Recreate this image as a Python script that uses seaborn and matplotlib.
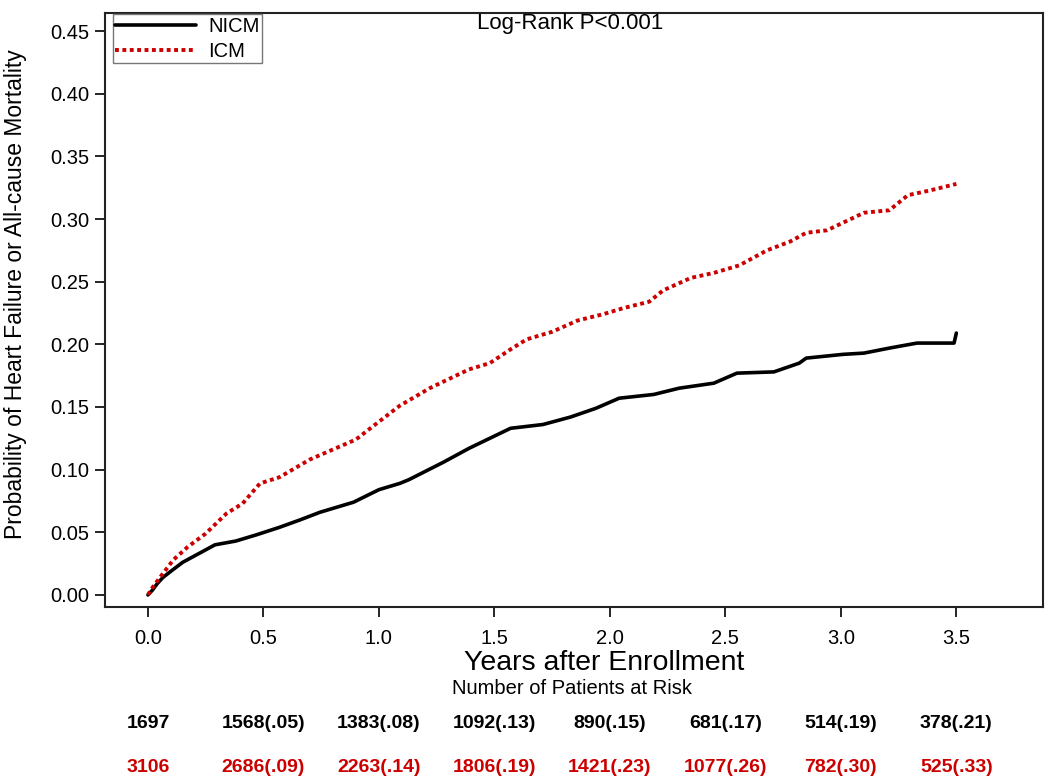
import matplotlib
matplotlib.use("Agg")
import matplotlib.pyplot as plt
import matplotlib.transforms as mtransforms
import seaborn as sns
import pandas as pd

# ---- data ----
nicm_t = [0.0, 0.02, 0.04, 0.065, 0.10, 0.15, 0.20, 0.29, 0.38, 0.47, 0.57, 0.66, 0.745,
          0.89, 1.00, 1.09, 1.13, 1.28, 1.39, 1.48, 1.57, 1.71, 1.83, 1.94, 2.04, 2.19,
          2.30, 2.45, 2.55, 2.71, 2.82, 2.85, 3.01, 3.10, 3.21, 3.33, 3.49, 3.50]
nicm_v = [0.0, 0.004, 0.009, 0.014, 0.019, 0.026, 0.031, 0.040, 0.043, 0.048, 0.054, 0.060,
          0.066, 0.074, 0.084, 0.089, 0.092, 0.106, 0.117, 0.125, 0.133, 0.136, 0.142, 0.149,
          0.157, 0.160, 0.165, 0.169, 0.177, 0.178, 0.185, 0.189, 0.192, 0.193, 0.197, 0.201,
          0.201, 0.209]

icm_t = [0.0, 0.02, 0.052, 0.11, 0.17, 0.25, 0.34, 0.41, 0.485, 0.57, 0.70, 0.80, 0.90,
         0.97, 1.09, 1.22, 1.39, 1.48, 1.57, 1.64, 1.75, 1.86, 1.97, 2.06, 2.17, 2.23,
         2.35, 2.45, 2.56, 2.68, 2.78, 2.85, 2.94, 3.02, 3.10, 3.21, 3.29, 3.39, 3.50]
icm_v = [0.0, 0.006, 0.014, 0.028, 0.038, 0.049, 0.065, 0.073, 0.089, 0.094, 0.108, 0.116,
         0.124, 0.134, 0.151, 0.165, 0.180, 0.185, 0.196, 0.204, 0.210, 0.219, 0.224, 0.229,
         0.234, 0.243, 0.253, 0.257, 0.263, 0.275, 0.282, 0.289, 0.291, 0.298, 0.305, 0.307,
         0.319, 0.323, 0.328]

risk_times = [0.0, 0.5, 1.0, 1.5, 2.0, 2.5, 3.0, 3.5]
nicm_risk = ["1697", "1568(.05)", "1383(.08)", "1092(.13)", "890(.15)", "681(.17)", "514(.19)", "378(.21)"]
icm_risk = ["3106", "2686(.09)", "2263(.14)", "1806(.19)", "1421(.23)", "1077(.26)", "782(.30)", "525(.33)"]

x_ticks = [0.0, 0.5, 1.0, 1.5, 2.0, 2.5, 3.0, 3.5]
y_ticks = [0.00, 0.05, 0.10, 0.15, 0.20, 0.25, 0.30, 0.35, 0.40, 0.45]

RED = "#CC0000"

sns.set_theme(style="white")
plt.rcParams["font.family"] = ["Liberation Sans", "DejaVu Sans"]
plt.rcParams["text.color"] = "black"
plt.rcParams["axes.labelcolor"] = "black"
NARROW = ["Liberation Sans Narrow", "Liberation Sans", "DejaVu Sans"]

fig = plt.figure(figsize=(10.5, 7.84), dpi=100)
ax = fig.add_axes([0.100, 0.2258, 0.8933, 0.7576])

df_n = pd.DataFrame({"t": nicm_t, "v": nicm_v})
df_i = pd.DataFrame({"t": icm_t, "v": icm_v})
sns.lineplot(data=df_n, x="t", y="v", ax=ax, color="black", lw=2.6,
             estimator=None, sort=False, label="NICM")
sns.lineplot(data=df_i, x="t", y="v", ax=ax, color=RED, lw=2.8,
             estimator=None, sort=False, label="ICM",
             dashes=False, linestyle=(0, (1.0, 0.9)))

ax.set_xlim(-0.186, 3.875)
ax.set_ylim(-0.0096, 0.4644)
ax.set_xticks(x_ticks)
ax.set_xticklabels([f"{t:.1f}" for t in x_ticks])
ax.set_yticks(y_ticks)
ax.set_yticklabels([f"{t:.2f}" for t in y_ticks])
ax.tick_params(axis="both", which="both", direction="out", length=7, width=1.2,
               colors="black", labelsize=14.5, bottom=True, left=True)
ax.tick_params(axis="y", pad=4)
ax.tick_params(axis="x", pad=9)
for s in ax.spines.values():
    s.set_color("#222222")
    s.set_linewidth(1.5)

ax.set_xlabel("")
ax.set_ylabel("Probability of Heart Failure or All-cause Mortality", fontsize=16.5, color="black")
ax.yaxis.set_label_coords(-0.083, 0.527)

leg = ax.legend(loc="upper left", bbox_to_anchor=(0.0085, 0.998), fontsize=14.5, frameon=True,
                fancybox=False, edgecolor="#777777", framealpha=1, handlelength=4.0,
                borderpad=0.12, labelspacing=0.3, handletextpad=0.6, borderaxespad=0.0)
leg.get_frame().set_linewidth(1.0)
for txt in leg.get_texts():
    txt.set_color("black")

ax.text(0.496, 0.983, "Log-Rank P<0.001", transform=ax.transAxes, ha="center", va="center",
        fontsize=16, color="black")

fig.text(0.575, 1 - 663 / 784, "Years after Enrollment", ha="center", va="center", fontsize=20.5,
         color="black")
fig.text(0.545, 1 - 688 / 784, "Number of Patients at Risk", ha="center", va="center", fontsize=14.5,
         family=NARROW, color="black")

trans = mtransforms.blended_transform_factory(ax.transData, fig.transFigure)
for t, a, b in zip(risk_times, nicm_risk, icm_risk):
    ax.text(t, 1 - 723 / 784, a, transform=trans, ha="center", va="center", fontsize=14,
            fontweight="bold", color="black", family=NARROW)
    ax.text(t, 1 - 767 / 784, b, transform=trans, ha="center", va="center", fontsize=14,
            fontweight="bold", color=RED, family=NARROW)

fig.savefig("out.png", dpi=100)
